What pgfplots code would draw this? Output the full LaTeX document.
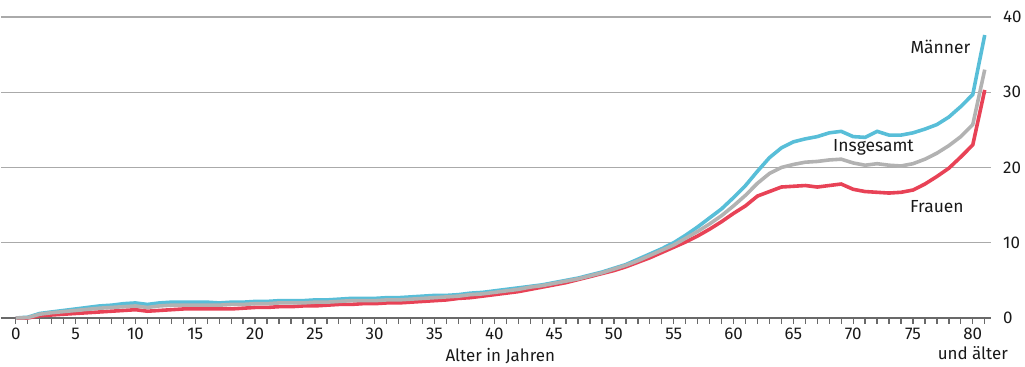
\documentclass[border=0pt]{standalone}
\usepackage{fontspec}
\setmainfont{Fira Sans}
\usepackage{pgfplots}
\pgfplotsset{compat=1.18}
\definecolor{maenner}{RGB}{88,190,216}
\definecolor{frauen}{RGB}{232,66,86}
\definecolor{gesamt}{RGB}{178,178,178}
\definecolor{gridgray}{RGB}{170,170,170}
\definecolor{axisgray}{RGB}{105,105,105}
\definecolor{txt}{RGB}{25,25,25}
\begin{document}
\begin{tikzpicture}
\begin{axis}[
  scale only axis,
  width=993pt, height=302pt,
  xmin=-1.25, xmax=81.5, ymin=0, ymax=40,
  axis x line*=bottom, axis y line*=right,
  y axis line style={draw=none},
  x axis line style={draw=axisgray, line width=1.8pt},
  xtick={0,5,...,80},
  xticklabels={0,5,10,15,20,25,30,35,40,45,50,55,60,65,70,75,{80\\und älter}},
  minor xtick={0,1,...,81},
  tick align=outside,
  major tick length=6pt, minor tick length=6pt,
  x tick style={draw=axisgray, line width=1.3pt},
  ytick={0,10,20,30,40},
  ytick style={draw=none},
  yticklabel pos=right,
  ymajorgrids,
  grid style={draw=gridgray, line width=1.3pt},
  every tick label/.append style={font=\fontsize{17}{20}\selectfont, text=txt},
  x tick label style={align=center, yshift=-1pt},
  y tick label style={xshift=3pt},
  /pgf/number format/assume math mode=true,
  clip=false,
]
\addplot[maenner, line width=3.6pt] coordinates {
(0,0) (1,0.1) (2,0.6) (3,0.8) (4,1.0) (5,1.2) (6,1.4) (7,1.6) (8,1.7) (9,1.9)
(10,2.0) (11,1.8) (12,2.0) (13,2.1) (14,2.1) (15,2.1) (16,2.1) (17,2.0) (18,2.1) (19,2.1)
(20,2.2) (21,2.2) (22,2.3) (23,2.3) (24,2.3) (25,2.4) (26,2.4) (27,2.5) (28,2.6) (29,2.6)
(30,2.6) (31,2.7) (32,2.7) (33,2.8) (34,2.9) (35,3.0) (36,3.0) (37,3.1) (38,3.3) (39,3.4)
(40,3.6) (41,3.8) (42,4.0) (43,4.2) (44,4.4) (45,4.7) (46,5.0) (47,5.3) (48,5.7) (49,6.1)
(50,6.6) (51,7.1) (52,7.8) (53,8.5) (54,9.2) (55,10.0) (56,11.0) (57,12.1) (58,13.3) (59,14.5)
(60,16.0) (61,17.6) (62,19.5) (63,21.3) (64,22.6) (65,23.4) (66,23.8) (67,24.1) (68,24.6) (69,24.8)
(70,24.1) (71,24.0) (72,24.8) (73,24.3) (74,24.3) (75,24.6) (76,25.1) (77,25.7) (78,26.7) (79,28.1)
(80,29.7) (81,37.6)
};
\addplot[frauen, line width=3.6pt] coordinates {
(0,0) (1,0) (2,0.3) (3,0.4) (4,0.5) (5,0.6) (6,0.7) (7,0.8) (8,0.9) (9,1.0)
(10,1.1) (11,0.9) (12,1.0) (13,1.1) (14,1.2) (15,1.2) (16,1.2) (17,1.2) (18,1.2) (19,1.3)
(20,1.4) (21,1.4) (22,1.5) (23,1.5) (24,1.6) (25,1.6) (26,1.7) (27,1.8) (28,1.8) (29,1.9)
(30,1.9) (31,2.0) (32,2.0) (33,2.1) (34,2.2) (35,2.3) (36,2.4) (37,2.6) (38,2.7) (39,2.9)
(40,3.1) (41,3.3) (42,3.5) (43,3.8) (44,4.1) (45,4.4) (46,4.7) (47,5.1) (48,5.5) (49,5.9)
(50,6.3) (51,6.8) (52,7.4) (53,8.0) (54,8.7) (55,9.4) (56,10.1) (57,10.9) (58,11.8) (59,12.8)
(60,13.9) (61,14.9) (62,16.2) (63,16.8) (64,17.4) (65,17.5) (66,17.6) (67,17.4) (68,17.6) (69,17.8)
(70,17.1) (71,16.8) (72,16.7) (73,16.6) (74,16.7) (75,17.0) (76,17.8) (77,18.8) (78,19.9) (79,21.4)
(80,23.0) (81,30.3)
};
\addplot[gesamt, line width=3.6pt] coordinates {
(0,0) (1,0.05) (2,0.5) (3,0.7) (4,0.85) (5,1.0) (6,1.15) (7,1.3) (8,1.4) (9,1.5)
(10,1.6) (11,1.4) (12,1.6) (13,1.7) (14,1.7) (15,1.7) (16,1.7) (17,1.7) (18,1.8) (19,1.8)
(20,1.9) (21,1.9) (22,2.0) (23,2.0) (24,2.0) (25,2.1) (26,2.1) (27,2.2) (28,2.3) (29,2.3)
(30,2.3) (31,2.4) (32,2.4) (33,2.5) (34,2.6) (35,2.7) (36,2.8) (37,2.9) (38,3.1) (39,3.2)
(40,3.4) (41,3.6) (42,3.8) (43,4.1) (44,4.3) (45,4.6) (46,4.9) (47,5.2) (48,5.6) (49,6.0)
(50,6.5) (51,7.0) (52,7.6) (53,8.3) (54,9.0) (55,9.7) (56,10.6) (57,11.5) (58,12.5) (59,13.6)
(60,14.9) (61,16.3) (62,17.9) (63,19.2) (64,20.0) (65,20.4) (66,20.7) (67,20.8) (68,21.0) (69,21.1)
(70,20.6) (71,20.3) (72,20.5) (73,20.3) (74,20.2) (75,20.5) (76,21.1) (77,21.9) (78,22.9) (79,24.1)
(80,25.7) (81,33.0)
};
\node[font=\fontsize{17.5}{20}\selectfont, text=txt] at (axis cs:77.3,36.0) {Männer};
\node[font=\fontsize{17.5}{20}\selectfont, text=txt] at (axis cs:71.7,22.7) {Insgesamt};
\node[font=\fontsize{17.5}{20}\selectfont, text=txt] at (axis cs:77.0,14.8) {Frauen};
\node[font=\fontsize{17}{20}\selectfont, text=txt] at (axis cs:40.5,-5.0) {Alter in Jahren};
\end{axis}
\path[use as bounding box] (0,-49pt) rectangle (1025pt,319pt);
\end{tikzpicture}
\end{document}
